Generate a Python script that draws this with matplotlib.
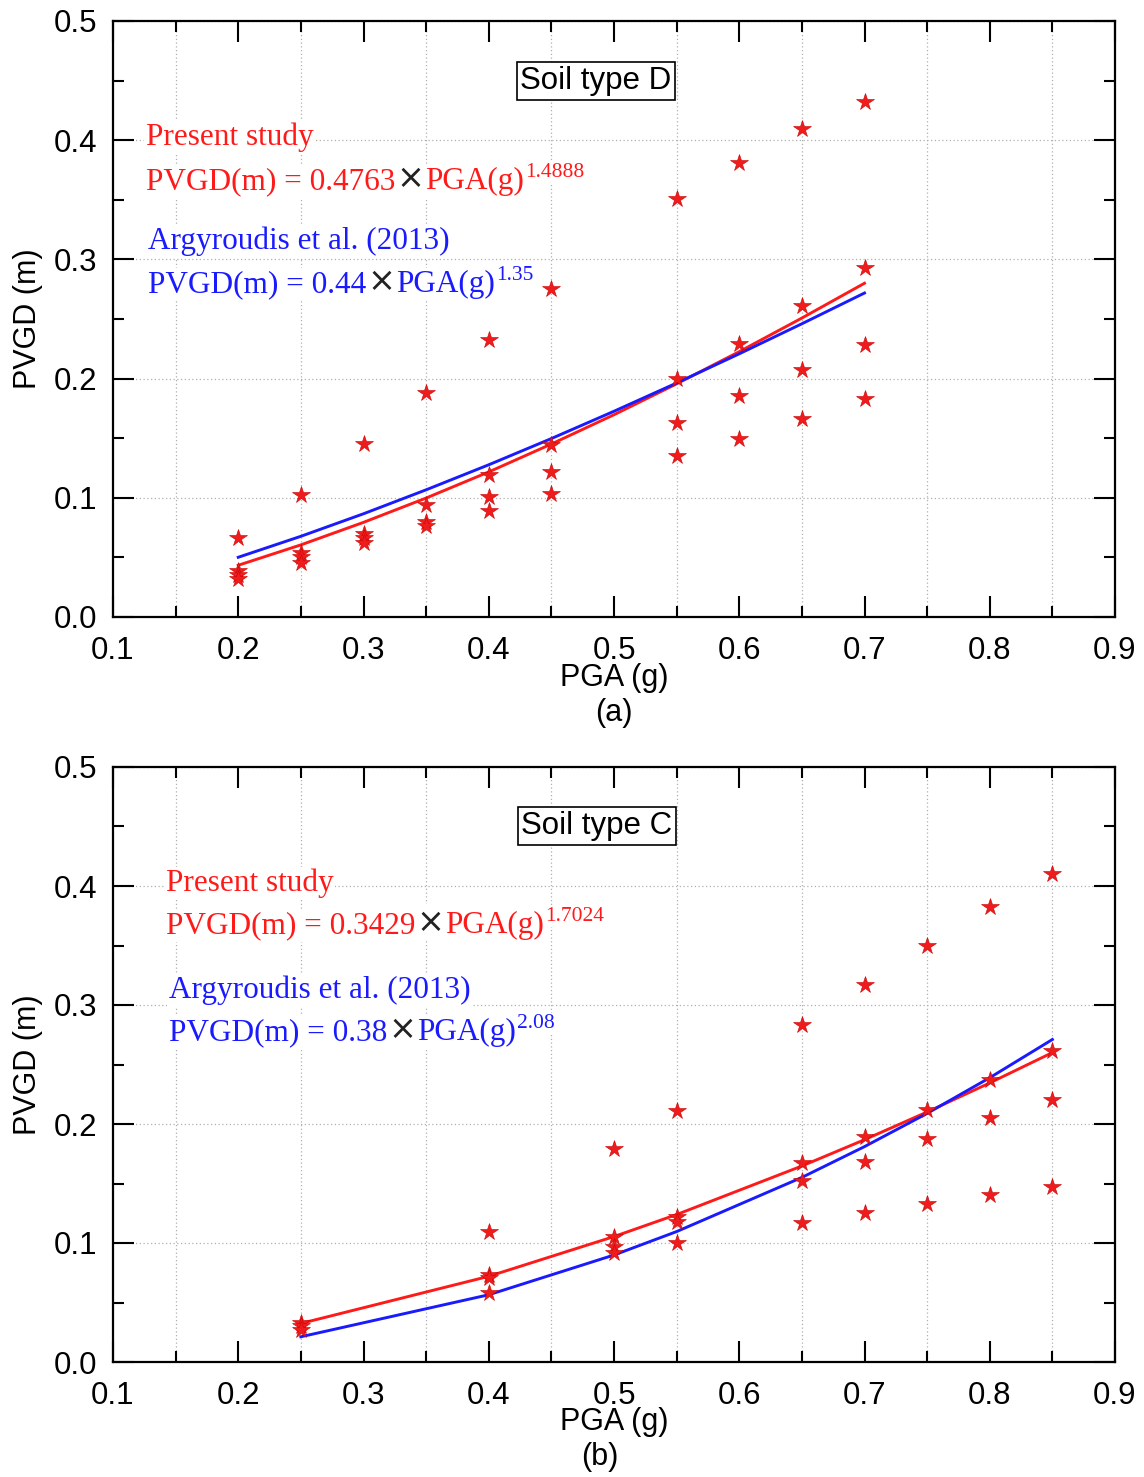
import numpy as np
import matplotlib
matplotlib.use("Agg")
import matplotlib.pyplot as plt
from matplotlib.transforms import IdentityTransform

# ---------------- data ----------------
# Panel (a): Soil type D
pga_a = [0.2] * 4 + [0.25] * 4 + [0.3] * 4 + [0.35] * 4 + [0.4] * 4 + \
        [0.45] * 4 + [0.55] * 4 + [0.6] * 4 + [0.65] * 4 + [0.7] * 4
pvgd_a = [0.066, 0.039, 0.035, 0.032,
          0.102, 0.054, 0.050, 0.045,
          0.145, 0.070, 0.066, 0.062,
          0.188, 0.094, 0.080, 0.076,
          0.232, 0.119, 0.101, 0.089,
          0.275, 0.144, 0.122, 0.103,
          0.351, 0.200, 0.163, 0.135,
          0.381, 0.229, 0.185, 0.149,
          0.409, 0.261, 0.207, 0.166,
          0.432, 0.293, 0.228, 0.183]
fit_x_a = [0.2, 0.25, 0.3, 0.35, 0.4, 0.45, 0.5, 0.55, 0.6, 0.65, 0.7]
fit_present_a = [0.0434, 0.0605, 0.0794, 0.0998, 0.1217, 0.1451,
                 0.1697, 0.1956, 0.2226, 0.2508, 0.2800]
fit_argy_a = [0.0501, 0.0677, 0.0866, 0.1067, 0.1277, 0.1497,
              0.1726, 0.1963, 0.2208, 0.2460, 0.2718]

# Panel (b): Soil type C
pga_b = [0.25] * 3 + [0.4] * 4 + [0.5] * 4 + [0.55] * 4 + [0.65] * 4 + \
        [0.7] * 4 + [0.75] * 4 + [0.8] * 4 + [0.85] * 4
pvgd_b = [0.033, 0.030, 0.027,
          0.109, 0.073, 0.071, 0.058,
          0.179, 0.105, 0.097, 0.092,
          0.211, 0.122, 0.118, 0.100,
          0.283, 0.167, 0.152, 0.117,
          0.317, 0.189, 0.168, 0.125,
          0.350, 0.212, 0.187, 0.133,
          0.382, 0.237, 0.205, 0.140,
          0.410, 0.261, 0.220, 0.147]
fit_x_b = [0.25, 0.4, 0.5, 0.55, 0.65, 0.7, 0.75, 0.8, 0.85]
fit_present_b = [0.0324, 0.0720, 0.1054, 0.1239, 0.1647, 0.1868,
                 0.2101, 0.2345, 0.2600]
fit_argy_b = [0.0212, 0.0565, 0.0899, 0.1096, 0.1551, 0.1810,
              0.2089, 0.2389, 0.2710]

xticks = [0.1, 0.2, 0.3, 0.4, 0.5, 0.6, 0.7, 0.8, 0.9]
yticks = [0.0, 0.1, 0.2, 0.3, 0.4, 0.5]

eq_a = [("Present study", None),
        ("PVGD(m) = 0.4763", "\u00d7", "PGA(g)", "1.4888"),
        ("Argyroudis et al. (2013)", None),
        ("PVGD(m) = 0.44", "\u00d7", "PGA(g)", "1.35")]
eq_b = [("Present study", None),
        ("PVGD(m) = 0.3429", "\u00d7", "PGA(g)", "1.7024"),
        ("Argyroudis et al. (2013)", None),
        ("PVGD(m) = 0.38", "\u00d7", "PGA(g)", "2.08")]

# ---------------- style ----------------
plt.rcParams['font.family'] = ['Liberation Sans', 'DejaVu Sans']
SERIF = ['Liberation Serif', 'DejaVu Serif']
RED = '#ff1a1a'
BLUE = '#1a1aff'
STAR = '#ee1c1c'

W, H = 1144, 1477
fig = plt.figure(figsize=(W / 100, H / 100), dpi=100)
ax1 = fig.add_axes([113 / W, 1 - 617 / H, (1115 - 113) / W, (617 - 21) / H])
ax2 = fig.add_axes([113 / W, 1 - 1362 / H, (1115 - 113) / W, (1362 - 767) / H])


def style_axes(ax):
    ax.set_xlim(0.1, 0.9)
    ax.set_ylim(0.0, 0.5)
    ax.set_xticks(xticks)
    ax.set_xticklabels([f"{v:.1f}" for v in xticks])
    ax.set_xticks(np.arange(0.15, 0.9, 0.1), minor=True)
    ax.set_yticks(yticks)
    ax.set_yticklabels([f"{v:.1f}" for v in yticks])
    ax.set_yticks(np.arange(0.05, 0.5, 0.1), minor=True)
    ax.tick_params(which='both', direction='in', top=True, right=True,
                   labelsize=22.5, width=1.5, color='black')
    ax.tick_params(which='major', length=15)
    ax.tick_params(which='minor', length=8)
    ax.tick_params(axis='x', which='major', pad=14)
    ax.tick_params(axis='y', which='major', pad=11)
    for s in ax.spines.values():
        s.set_linewidth(1.6)
    ax.set_axisbelow(True)
    ax.grid(which='minor', axis='x', ls=(0, (1, 2)), color='#b0b0b0', lw=0.9)
    ax.grid(which='major', axis='y', ls=(0, (1, 2)), color='#b0b0b0', lw=0.9)
    ax.grid(which='major', axis='x', visible=False)
    ax.set_ylabel("PVGD (m)", fontsize=22, labelpad=8)


for ax, px, py, fx, fp, fa in [(ax1, pga_a, pvgd_a, fit_x_a, fit_present_a, fit_argy_a),
                               (ax2, pga_b, pvgd_b, fit_x_b, fit_present_b, fit_argy_b)]:
    style_axes(ax)
    ax.plot(fx, fp, color=RED, lw=2.1, zorder=3)
    ax.plot(fx, fa, color=BLUE, lw=2.1, zorder=3)
    ax.plot(px, py, ls='none', marker='*', ms=13, color=STAR,
            markeredgecolor='#cc0000', markeredgewidth=0.4, zorder=4)

# x labels and panel tags (figure pixel positions)
fig.text(614 / W, 1 - 678 / H, "PGA (g)", ha='center', va='center', fontsize=22)
fig.text(614 / W, 1 - 713 / H, "(a)", ha='center', va='center', fontsize=22)
fig.text(614 / W, 1 - 1422 / H, "PGA (g)", ha='center', va='center', fontsize=22)
fig.text(600 / W, 1 - 1457 / H, "(b)", ha='center', va='center', fontsize=22)

# Soil type boxes
box = dict(boxstyle='square,pad=0.12', fc='white', ec='black', lw=1.2)
fig.text(596 / W, 1 - 81 / H, "Soil type D", ha='center', va='center',
         fontsize=22.5, bbox=box, zorder=6)
fig.text(597 / W, 1 - 826 / H, "Soil type C", ha='center', va='center',
         fontsize=22.5, bbox=box, zorder=6)

fig.canvas.draw()
renderer = fig.canvas.get_renderer()
ident = IdentityTransform()
wbg = dict(boxstyle='square,pad=0.05', fc='white', ec='none')


def put(x, y, s, color, size, family=SERIF):
    t = fig.text(x, y, s, transform=ident, ha='left', va='baseline',
                 color=color, fontsize=size, family=family, bbox=wbg, zorder=6)
    bb = t.get_window_extent(renderer)
    return bb.x1


def eq_block(eqs, x0s, baselines):
    colors = [RED, RED, BLUE, BLUE]
    for e, x0, yb, c in zip(eqs, x0s, baselines, colors):
        ypix = H - yb
        if e[1] is None:
            put(x0, ypix, e[0], c, 22.5)
        else:
            x = put(x0, ypix, e[0], c, 22.5)
            x = put(x + 1, ypix + 1, e[1], '#222222', 24,
                    family=['DejaVu Sans'])
            x = put(x + 1, ypix, e[2], c, 22.5)
            put(x + 1, ypix + 12, e[3], c, 15.5)


eq_block(eq_a, [146, 146, 148, 148], [145, 189, 249, 292])
eq_block(eq_b, [166, 166, 169, 169], [891, 933, 998, 1040])

fig.savefig("out.png", dpi=100)
